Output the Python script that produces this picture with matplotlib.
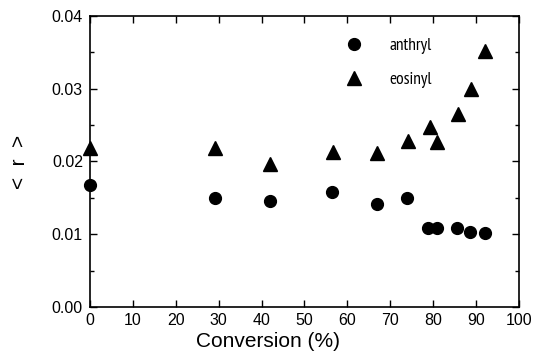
import matplotlib
matplotlib.use("Agg")
import matplotlib.pyplot as plt
from matplotlib.ticker import MultipleLocator
import matplotlib.font_manager as fm

plt.rcParams['font.family'] = ['Liberation Sans', 'DejaVu Sans']

conv_anthryl = [0.0, 29.2, 42.0, 56.5, 66.9, 74.0, 78.9, 80.8, 85.6, 88.6, 92.0]
r_anthryl = [0.0168, 0.0150, 0.0145, 0.0158, 0.0141, 0.0150, 0.0109, 0.0109, 0.0109, 0.0103, 0.0102]
conv_eosinyl = [0.0, 29.2, 42.0, 56.7, 66.9, 74.2, 79.3, 80.9, 85.7, 88.8, 92.2]
r_eosinyl = [0.0219, 0.0218, 0.0197, 0.0213, 0.0212, 0.0228, 0.0247, 0.0227, 0.0265, 0.0299, 0.0352]
xticks = [0, 10, 20, 30, 40, 50, 60, 70, 80, 90, 100]
yticks = [0.00, 0.01, 0.02, 0.03, 0.04]

fig = plt.figure(figsize=(5.35, 3.52), dpi=100)
ax = fig.add_axes([0.168, 0.128, 0.802, 0.8267])

ax.plot(conv_anthryl, r_anthryl, 'o', color='black', ms=8.5, label='anthryl', clip_on=False)
ax.plot(conv_eosinyl, r_eosinyl, '^', color='black', ms=9.5, label='eosinyl', clip_on=False)

ax.set_xlim(0, 100)
ax.set_ylim(0, 0.04)
ax.set_xticks(xticks)
ax.set_yticks(yticks)
ax.set_yticklabels([f"{v:.2f}" for v in yticks])
ax.yaxis.set_minor_locator(MultipleLocator(0.005))
ax.tick_params(which='both', direction='in', top=True, right=True, labelsize=11.5, width=1.0)
ax.tick_params(which='major', length=5)
ax.tick_params(which='minor', length=3)
ax.tick_params(axis='x', pad=4.5)
ax.tick_params(axis='y', pad=5)
for s in ax.spines.values():
    s.set_linewidth(1.2)

ax.set_xlabel('Conversion (%)', fontsize=15, va='bottom')
ax.xaxis.set_label_coords(0.5, 0.003, transform=fig.transFigure)
ax.set_ylabel('<  r  >', fontsize=15, labelpad=16)

narrow = [f for f in fm.findSystemFonts() if 'Narrow' in f and 'Bold' not in f and 'Italic' not in f]
legfont = {'size': 12}
if narrow:
    legfont = fm.FontProperties(fname=narrow[0], size=12.5)
leg = ax.legend(loc='upper left', bbox_to_anchor=(0.56, 0.95), frameon=False,
                prop=legfont, handletextpad=1.0, labelspacing=1.05, borderaxespad=0)

fig.savefig('out.png', dpi=100)
